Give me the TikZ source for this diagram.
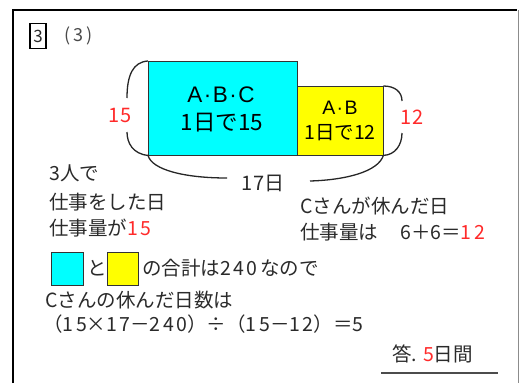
\documentclass[tikz,border=0pt]{standalone}
\usepackage{fontspec}
\setmainfont{Noto Sans CJK JP}
\newfontfamily\latinf{Liberation Sans}
\newcommand\dg{\hspace{2.5pt}}
\newcommand\md{\hspace{1.5pt}{\latinf ·}\hspace{1.5pt}}
\definecolor{txt}{HTML}{2A2A2A}
\definecolor{rd}{HTML}{FF2A2A}
\definecolor{cy}{HTML}{00FFFF}
\definecolor{ye}{HTML}{FFFF00}
\tikzset{
  lbl/.style={inner sep=0pt, anchor=west, text=txt, font=\fontsize{19.5}{21}\selectfont},
  boxtxt/.style={inner sep=0pt, text=black},
  brace/.style={line width=1.3pt, black!85},
  redlbl/.style={inner sep=0pt, text=rd, font=\fontsize{20}{21}\selectfont},
}
\begin{document}
\begin{tikzpicture}[x=1pt,y=-1pt]
\useasboundingbox (0,0) rectangle (519,383);
% frame
\draw[line width=1.6pt, black] (13,383) -- (13,10) -- (517,10);
\draw[line width=1pt, black!45] (518,10) -- (518,383);
% header
\node[draw, line width=1.3pt, minimum width=16pt, minimum height=25pt, inner sep=0pt, font=\fontsize{17}{18}\selectfont, text=txt] (num) at (38,36) {3};
\node[inner sep=0pt, anchor=west, text=txt!85, font=\fontsize{18}{19}\selectfont] (sub) at (64,36) {(\,3\,)};
% main rectangles
\node[draw=black!80, fill=cy, minimum width=149pt, minimum height=94pt, inner sep=0pt, anchor=north west] (big) at (148,61) {};
\node[draw=black!80, fill=ye, minimum width=86pt, minimum height=69pt, inner sep=0pt, anchor=north west] (small) at (297,86) {};
\node[boxtxt, font=\fontsize{22.5}{23}\selectfont] (t1) at (221,95) {{\latinf A}\md{\latinf B}\md{\latinf C}};
\node[boxtxt, font=\fontsize{22.5}{23}\selectfont] (t2) at (222,123) {1日で15};
\node[boxtxt, font=\fontsize{19.5}{20}\selectfont] (t3) at (340,108) {{\latinf A}\md{\latinf B}};
\node[boxtxt, font=\fontsize{19.5}{20}\selectfont] (t4) at (340,133) {1日で12};
% braces
\coordinate (lt) at (big.north west);
\coordinate (lb) at (big.south west);
\coordinate (rt) at (small.north east);
\coordinate (rb) at (small.south east);
\node[redlbl] (n15) at (120,115) {15};
\node[redlbl] (n12) at (412,117) {12};
\node[inner sep=0pt, text=txt, font=\fontsize{20}{21}\selectfont] (n17) at (263,183) {17日};
\draw[brace] (lt) .. controls (133,62) and (127,75) .. (127,98);
\draw[brace] (lb) .. controls (133,154) and (127,143) .. (127,132);
\draw[brace] (rt) .. controls (395,86) and (402,92) .. (402,101);
\draw[brace] (rb) .. controls (395,155) and (402,145) .. (402,133);
\draw[brace] (lb) .. controls (152,170) and (185,178) .. (227,178);
\draw[brace] (rb) .. controls (378,172) and (345,180) .. (310,181);
% left texts
\node[lbl] (a1) at (49,173) {3人で};
\node[lbl] (a2) at (49,202) {仕事をした日};
\node[lbl] (a3) at (49,228) {仕事量が\textcolor{rd}{1\dg 5}};
% right texts
\node[lbl] (b1) at (300,206) {Cさんが休んだ日};
\node[lbl] (b2) at (300,232) {仕事量は\hspace{22pt}6＋6＝\textcolor{rd}{1\dg 2}};
% squares line
\node[draw=black!80, fill=cy, minimum width=32pt, minimum height=33pt, inner sep=0pt, anchor=north west] (sq1) at (51,252) {};
\node[lbl] (to) at (87,268) {と};
\node[draw=black!80, fill=ye, minimum width=31pt, minimum height=33pt, inner sep=0pt, anchor=north west] (sq2) at (107,252) {};
\node[lbl] (c1) at (142,268) {の合計は2\dg 4\dg 0\dg なので};
\node[lbl] (c2) at (45,300) {Cさんの休んだ日数は};
\node[lbl] (c3) at (43,324) {（1\dg 5×1\dg 7－2\dg 4\dg 0）÷（1\dg 5－1\dg 2）＝5};
% answer
\node[lbl] (ans) at (392,354) {答.\hspace{6pt}\textcolor{rd}{5}日間};
\coordinate (u1) at (381,373);
\coordinate (u2) at (498,373);
\draw[line width=1.4pt, black!70] (u1) -- (u2);
\end{tikzpicture}
\end{document}
